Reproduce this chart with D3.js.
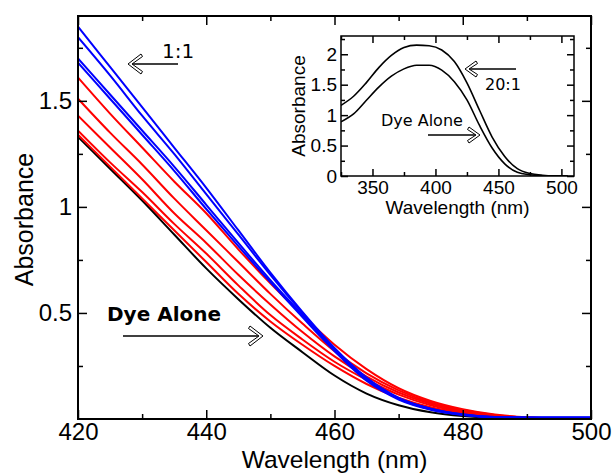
<!DOCTYPE html>
<html>
<head>
<meta charset="utf-8">
<script src="https://cdn.jsdelivr.net/npm/d3@7"></script>
<style>
  html, body { margin: 0; padding: 0; background: #fff; }
  svg { display: block; }
</style>
</head>
<body>
<svg id="chart" width="615" height="475"></svg>
<script>
// Wavelength grid (nm) for the main titration spectra
const wavelengths = [420, 425, 430, 435, 440, 445, 450, 455, 460, 465, 470, 475, 480, 485, 490, 495, 500];

// Dye alone
const dyeAlone = [1.33, 1.18, 1.03, 0.87, 0.71, 0.565, 0.43, 0.315, 0.205, 0.12, 0.065, 0.032, 0.014, 0.005, 0.001, 0, 0];

// Intermediate ratios (red), lowest to highest at 420 nm
const red5 = [1.34, 1.19, 1.04, 0.89, 0.74, 0.59, 0.46, 0.35, 0.25, 0.165, 0.10, 0.055, 0.028, 0.012, 0.004, 0.001, 0];
const red4 = [1.36, 1.21, 1.07, 0.92, 0.78, 0.63, 0.49, 0.375, 0.27, 0.185, 0.115, 0.065, 0.033, 0.014, 0.005, 0.001, 0];
const red3 = [1.43, 1.28, 1.13, 0.97, 0.83, 0.68, 0.54, 0.41, 0.295, 0.20, 0.125, 0.072, 0.038, 0.017, 0.006, 0.002, 0];
const red2 = [1.51, 1.35, 1.20, 1.04, 0.89, 0.74, 0.59, 0.45, 0.32, 0.215, 0.135, 0.078, 0.042, 0.019, 0.007, 0.002, 0];
const red1 = [1.61, 1.44, 1.28, 1.12, 0.97, 0.80, 0.64, 0.49, 0.35, 0.235, 0.145, 0.085, 0.046, 0.021, 0.008, 0.003, 0.002];

// Ratios approaching 1:1 (blue)
const blue4 = [1.68, 1.51, 1.34, 1.17, 0.99, 0.815, 0.645, 0.48, 0.32, 0.18, 0.092, 0.044, 0.019, 0.008, 0.006, 0.006, 0.006];
const blue3 = [1.70, 1.53, 1.36, 1.19, 1.01, 0.83, 0.655, 0.49, 0.325, 0.185, 0.095, 0.046, 0.020, 0.008, 0.006, 0.006, 0.006];
const blue2 = [1.80, 1.62, 1.43, 1.25, 1.06, 0.87, 0.68, 0.50, 0.33, 0.19, 0.098, 0.048, 0.021, 0.009, 0.007, 0.007, 0.007];
const blue1 = [1.85, 1.66, 1.47, 1.28, 1.09, 0.89, 0.69, 0.505, 0.335, 0.195, 0.10, 0.049, 0.022, 0.009, 0.007, 0.007, 0.007];

// Full-range spectra for the inset
const insetWavelengths = [325, 335, 345, 355, 365, 375, 385, 395, 405, 415, 425, 435, 445, 455, 465, 475, 485, 495, 505];
const insetDyeAlone = [0.89, 1.02, 1.24, 1.46, 1.64, 1.76, 1.82, 1.82, 1.74, 1.55, 1.25, 0.83, 0.46, 0.20, 0.06, 0.02, 0.005, 0, 0];
const insetRatio20 = [1.16, 1.31, 1.53, 1.78, 1.98, 2.11, 2.15, 2.14, 2.07, 1.88, 1.53, 1.08, 0.64, 0.32, 0.12, 0.04, 0.012, 0.002, 0];

// Tick values
const xTicks = [420, 440, 460, 480, 500];
const xMinorTicks = [430, 450, 470, 490];
const yTicks = [0.5, 1, 1.5];
const yMinorTicks = [0.25, 0.75, 1.25, 1.75];
const insetXTicks = [350, 400, 450, 500];
const insetXMinorTicks = [325, 375, 425, 475];
const insetYTicks = [0, 0.5, 1, 1.5, 2];
const insetYMinorTicks = [0.25, 0.75, 1.25, 1.75, 2.25];

const series = [
  { values: dyeAlone, color: "#000000" },
  { values: red5, color: "#ff0000" },
  { values: red4, color: "#ff0000" },
  { values: red3, color: "#ff0000" },
  { values: red2, color: "#ff0000" },
  { values: red1, color: "#ff0000" },
  { values: blue4, color: "#0000ff" },
  { values: blue3, color: "#0000ff" },
  { values: blue2, color: "#0000ff" },
  { values: blue1, color: "#0000ff" }
];

const svg = d3.select("#chart");
const tickFont = "'Liberation Sans', Arial, Helvetica, sans-serif";
const noteFont = "'DejaVu Sans', sans-serif";

// ---------- main panel ----------
const M = { left: 78, right: 591, top: 16, bottom: 419 };
const x = d3.scaleLinear().domain([420, 500]).range([M.left, M.right]);
const y = d3.scaleLinear().domain([0, 1.9]).range([M.bottom, M.top]);

const defs = svg.append("defs");
defs.append("clipPath").attr("id", "mainClip")
  .append("rect").attr("x", M.left).attr("y", M.top)
  .attr("width", M.right - M.left).attr("height", M.bottom - M.top);

const line = d3.line()
  .x((d, i) => x(wavelengths[i]))
  .y(d => y(d))
  .curve(d3.curveMonotoneX);

const curves = svg.append("g").attr("clip-path", "url(#mainClip)");
series.forEach(s => {
  curves.append("path")
    .attr("d", line(s.values))
    .attr("fill", "none")
    .attr("stroke", s.color)
    .attr("stroke-width", 2)
    .attr("stroke-linejoin", "round");
});

function styleAxis(g, fontSize) {
  g.select(".domain").remove();
  g.selectAll("line").attr("stroke", "#000").attr("stroke-width", 1.5);
  g.selectAll("text").attr("font-family", tickFont).attr("font-size", fontSize).attr("fill", "#000");
}

// Box frame with inward major/minor ticks on all four sides
function frameAxes(xs, ys, box, opts) {
  const g = svg.append("g");
  g.append("g").attr("transform", `translate(0,${box.bottom})`)
    .call(d3.axisBottom(xs).tickValues(opts.xTicks).tickSize(-opts.major).tickPadding(opts.xPad).tickFormat(d3.format("d")))
    .call(a => styleAxis(a, opts.font));
  g.append("g").attr("transform", `translate(0,${box.bottom})`)
    .call(d3.axisBottom(xs).tickValues(opts.xMinor).tickSize(-opts.minor).tickFormat(""))
    .call(a => styleAxis(a, opts.font));
  g.append("g").attr("transform", `translate(0,${box.top})`)
    .call(d3.axisTop(xs).tickValues(opts.xTicks).tickSize(-opts.major).tickFormat(""))
    .call(a => styleAxis(a, opts.font));
  g.append("g").attr("transform", `translate(0,${box.top})`)
    .call(d3.axisTop(xs).tickValues(opts.xMinor).tickSize(-opts.minor).tickFormat(""))
    .call(a => styleAxis(a, opts.font));
  g.append("g").attr("transform", `translate(${box.left},0)`)
    .call(d3.axisLeft(ys).tickValues(opts.yTicks).tickSize(-opts.major).tickPadding(opts.yPad).tickFormat(d => String(d)))
    .call(a => styleAxis(a, opts.font));
  g.append("g").attr("transform", `translate(${box.left},0)`)
    .call(d3.axisLeft(ys).tickValues(opts.yMinor).tickSize(-opts.minor).tickFormat(""))
    .call(a => styleAxis(a, opts.font));
  g.append("g").attr("transform", `translate(${box.right},0)`)
    .call(d3.axisRight(ys).tickValues(opts.yTicks).tickSize(-opts.major).tickFormat(""))
    .call(a => styleAxis(a, opts.font));
  g.append("g").attr("transform", `translate(${box.right},0)`)
    .call(d3.axisRight(ys).tickValues(opts.yMinor).tickSize(-opts.minor).tickFormat(""))
    .call(a => styleAxis(a, opts.font));
  g.append("rect")
    .attr("x", box.left).attr("y", box.top)
    .attr("width", box.right - box.left).attr("height", box.bottom - box.top)
    .attr("fill", "none").attr("stroke", "#000").attr("stroke-width", opts.frame);
  return g;
}

frameAxes(x, y, M, {
  xTicks, xMinor: xMinorTicks, yTicks, yMinor: yMinorTicks,
  major: 9, minor: 5, xPad: 4, yPad: 6, font: 24, frame: 2
});

svg.append("text")
  .attr("x", (M.left + M.right) / 2).attr("y", 468)
  .attr("text-anchor", "middle")
  .attr("font-family", tickFont).attr("font-size", 24.5)
  .text("Wavelength (nm)");

svg.append("text")
  .attr("transform", `translate(33,${(M.top + M.bottom) / 2 + 2}) rotate(-90)`)
  .attr("text-anchor", "middle")
  .attr("font-family", tickFont).attr("font-size", 25)
  .text("Absorbance");

// Open chevron arrow: tip at (tx, ty), shaft back to tailX, dir -1 points left, +1 right
function arrow(tx, ty, tailX, dir, h, len, w) {
  const g = svg.append("g");
  g.append("line")
    .attr("x1", tailX).attr("y1", ty).attr("x2", tx - dir * 3).attr("y2", ty)
    .attr("stroke", "#000").attr("stroke-width", w);
  const p = d3.path();
  p.moveTo(tx, ty);
  p.lineTo(tx - dir * len, ty - h);
  p.lineTo(tx - dir * (len + 1.5), ty - h + 2.5);
  p.lineTo(tx - dir * 4, ty);
  p.lineTo(tx - dir * (len + 1.5), ty + h - 2.5);
  p.lineTo(tx - dir * len, ty + h);
  p.closePath();
  g.append("path").attr("d", p.toString())
    .attr("fill", "#fff").attr("stroke", "#000").attr("stroke-width", 1)
    .attr("stroke-linejoin", "miter");
}

svg.append("text").attr("x", 162).attr("y", 58)
  .attr("font-family", noteFont).attr("font-size", 20).text("1:1");
arrow(128, 64, 178, -1, 10, 13, 1.5);

svg.append("text").attr("x", 107).attr("y", 321)
  .attr("font-family", noteFont).attr("font-size", 20).attr("font-weight", "bold").text("Dye Alone");
arrow(263, 336, 123, 1, 10, 13, 1.5);

// ---------- inset ----------
const I = { left: 341, right: 574, top: 36, bottom: 176 };
const xi = d3.scaleLinear().domain([325, 510]).range([I.left, I.right]);
const yi = d3.scaleLinear().domain([0, 2.3]).range([I.bottom, I.top]);

svg.append("rect")
  .attr("x", I.left).attr("y", I.top)
  .attr("width", I.right - I.left).attr("height", I.bottom - I.top)
  .attr("fill", "#fff");

defs.append("clipPath").attr("id", "insetClip")
  .append("rect").attr("x", I.left).attr("y", I.top)
  .attr("width", I.right - I.left).attr("height", I.bottom - I.top);

const insetLine = d3.line()
  .x((d, i) => xi(insetWavelengths[i]))
  .y(d => yi(d))
  .curve(d3.curveMonotoneX);

const insetCurves = svg.append("g").attr("clip-path", "url(#insetClip)");
[insetDyeAlone, insetRatio20].forEach(v => {
  insetCurves.append("path")
    .attr("d", insetLine(v))
    .attr("fill", "none").attr("stroke", "#000").attr("stroke-width", 1.6);
});

frameAxes(xi, yi, I, {
  xTicks: insetXTicks, xMinor: insetXMinorTicks, yTicks: insetYTicks, yMinor: insetYMinorTicks,
  major: 7, minor: 4, xPad: 5, yPad: 4, font: 19, frame: 1.5
});

svg.append("text")
  .attr("x", (I.left + I.right) / 2).attr("y", 214)
  .attr("text-anchor", "middle")
  .attr("font-family", tickFont).attr("font-size", 19)
  .text("Wavelength (nm)");

svg.append("text")
  .attr("transform", `translate(305,${(I.top + I.bottom) / 2}) rotate(-90)`)
  .attr("text-anchor", "middle")
  .attr("font-family", tickFont).attr("font-size", 19)
  .text("Absorbance");

svg.append("text").attr("x", 485).attr("y", 90)
  .attr("font-family", noteFont).attr("font-size", 16).text("20:1");
arrow(465, 69, 516, -1, 8, 11, 1.3);

svg.append("text").attr("x", 381).attr("y", 126)
  .attr("font-family", noteFont).attr("font-size", 16).text("Dye Alone");
arrow(480, 135, 428, 1, 8, 11, 1.3);
</script>
</body>
</html>
